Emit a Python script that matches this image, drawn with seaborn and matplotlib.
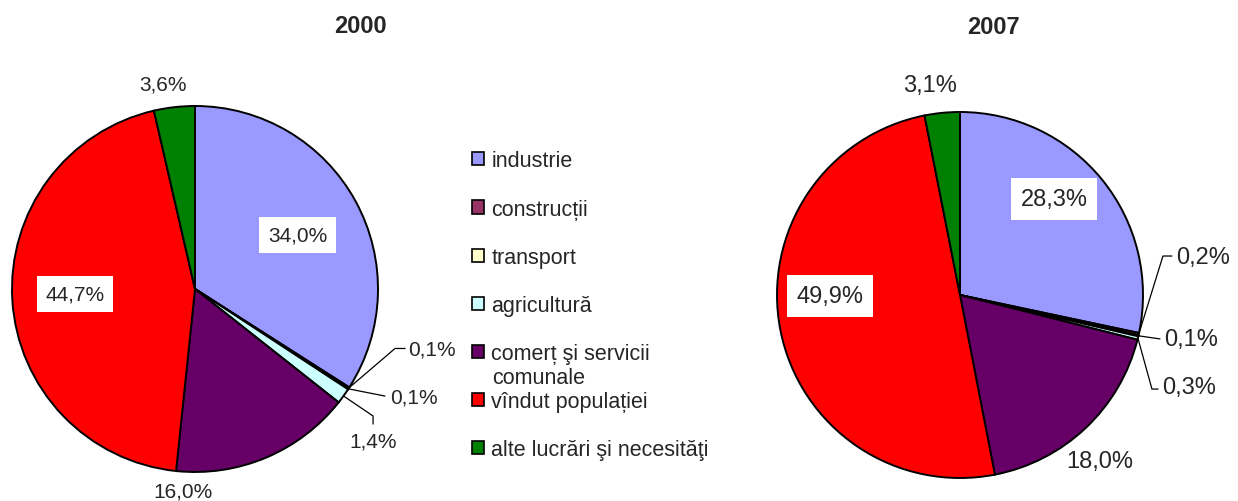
import numpy as np
import matplotlib
matplotlib.use("Agg")
import matplotlib.pyplot as plt
import seaborn as sns
from matplotlib.patches import Patch

# ---------------- data ----------------
categories = ["industrie", "construcții", "transport", "agricultură",
              "comerț şi servicii", "vîndut populației", "alte lucrări şi necesităţi"]
values_2000 = [34.0, 0.1, 0.1, 1.4, 16.0, 44.7, 3.6]
values_2007 = [28.3, 0.2, 0.1, 0.3, 18.0, 49.9, 3.1]
labels_2000 = ["34,0%", "0,1%", "0,1%", "1,4%", "16,0%", "44,7%", "3,6%"]
labels_2007 = ["28,3%", "0,2%", "0,1%", "0,3%", "18,0%", "49,9%", "3,1%"]
titles = ["2000", "2007"]

colors = sns.color_palette(["#9999FF", "#993366", "#FFFFCC", "#CCFFFF",
                            "#660066", "#FF0000", "#008000"])

sns.set_theme(style="white")
plt.rcParams["font.family"] = ["Liberation Sans", "DejaVu Sans"]

W, H = 1238, 502
fig = plt.figure(figsize=(W / 100, H / 100), dpi=100)
fig.patch.set_facecolor("white")

R = 183


def make_ax(cx, cy):
    ax = fig.add_axes([(cx - R) / W, (H - cy - R) / H, 2 * R / W, 2 * R / H])
    return ax


def mid_point(vals, i):
    tot = sum(vals)
    cum = sum(vals[:i]) + vals[i] / 2
    ang = np.deg2rad(90 - 360 * cum / tot)
    return np.cos(ang), np.sin(ang)


def draw_pie(ax, vals):
    ax.pie(vals, colors=colors, startangle=90, counterclock=False, radius=1,
           wedgeprops=dict(edgecolor="black", linewidth=1.4))
    ax.set_xlim(-1, 1)
    ax.set_ylim(-1, 1)
    ax.set_aspect("equal")
    ax.axis("off")


# ---------- left pie (2000) ----------
ax1 = make_ax(195, 290)
draw_pie(ax1, values_2000)
fs1 = 15
box = dict(boxstyle="square,pad=0.42", facecolor="white", edgecolor="none")
ax1.text(0.560, 0.295, labels_2000[0], fontsize=fs1, ha="center", va="center", bbox=box)
ax1.text(-0.656, -0.027, labels_2000[5], fontsize=fs1, ha="center", va="center", bbox=box)
ax1.text(-0.066, -1.104, labels_2000[4], fontsize=fs1, ha="center", va="center", clip_on=False)
ax1.text(-0.175, 1.120, labels_2000[6], fontsize=fs1, ha="center", va="center", clip_on=False)

lk = dict(color="black", linewidth=0.9, clip_on=False)
# construcții
x0, y0 = mid_point(values_2000, 1)
ax1.plot([x0, 1.093, 1.148], [y0, -0.325, -0.325], **lk)
ax1.text(1.164, -0.330, labels_2000[1], fontsize=fs1, ha="left", va="center", clip_on=False)
# transport
x0, y0 = mid_point(values_2000, 2)
ax1.plot([x0, 1.038], [y0, -0.585], **lk)
ax1.text(1.066, -0.588, labels_2000[2], fontsize=fs1, ha="left", va="center", clip_on=False)
# agricultura
x0, y0 = mid_point(values_2000, 3)
ax1.plot([x0, 0.973, 0.973], [y0, -0.694, -0.738], **lk)
ax1.text(0.973, -0.83, labels_2000[3], fontsize=fs1, ha="center", va="center", clip_on=False)

# ---------- right pie (2007) ----------
ax2 = make_ax(960, 296)
draw_pie(ax2, values_2007)
fs2 = 17
ax2.text(0.514, 0.525, labels_2007[0], fontsize=fs2, ha="center", va="center", bbox=box)
ax2.text(-0.71, -0.005, labels_2007[5], fontsize=fs2, ha="center", va="center", bbox=box)
ax2.text(0.765, -0.907, labels_2007[4], fontsize=fs2, ha="center", va="center", clip_on=False)
ax2.text(-0.164, 1.148, labels_2007[6], fontsize=fs2, ha="center", va="center", clip_on=False)

x0, y0 = mid_point(values_2007, 1)
ax2.plot([x0, 1.109, 1.158], [y0, 0.213, 0.213], **lk)
ax2.text(1.18, 0.208, labels_2007[1], fontsize=fs2, ha="left", va="center", clip_on=False)
x0, y0 = mid_point(values_2007, 2)
ax2.plot([x0, 1.093], [y0, -0.240], **lk)
ax2.text(1.115, -0.240, labels_2007[2], fontsize=fs2, ha="left", va="center", clip_on=False)
x0, y0 = mid_point(values_2007, 3)
ax2.plot([x0, 1.049, 1.082], [y0, -0.514, -0.514], **lk)
ax2.text(1.105, -0.503, labels_2007[3], fontsize=fs2, ha="left", va="center", clip_on=False)

# ---------- titles ----------
fig.text(360.5 / W, 1 - 26.5 / H, titles[0], fontsize=17, fontweight="bold", ha="center", va="center")
fig.text(993.5 / W, 1 - 28 / H, titles[1], fontsize=17, fontweight="bold", ha="center", va="center")

# ---------- legend ----------
handles = [Patch(facecolor=c, edgecolor="black", linewidth=1.2) for c in colors]
fs_leg = 15.5
leg = fig.legend(handles, categories, loc="upper left",
                 bbox_to_anchor=(472 / W, 1 - 151.5 / H), bbox_transform=fig.transFigure,
                 frameon=False, fontsize=fs_leg, borderpad=0, borderaxespad=0,
                 handlelength=0.56, handleheight=0.56, handletextpad=0.33,
                 labelspacing=1.26)
fig.text(492 / W, 1 - 379 / H, "comunale", fontsize=fs_leg, ha="left", va="center")

fig.savefig("out.png", dpi=100)
